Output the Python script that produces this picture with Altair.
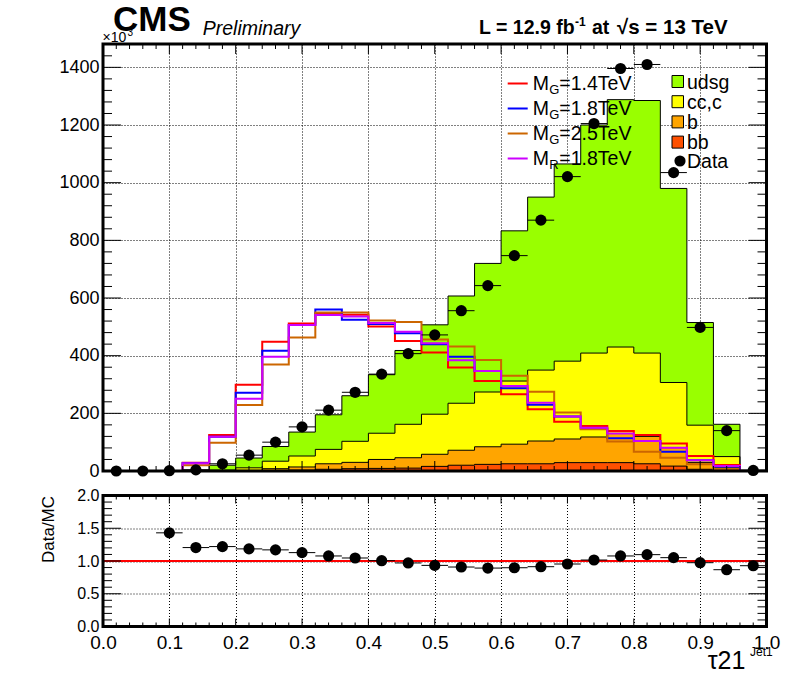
import altair as alt
import pandas as pd

# ---------------- data (units of 10^3 events) ----------------
bin_lo = [0.00, 0.04, 0.08, 0.12, 0.16, 0.20, 0.24, 0.28, 0.32, 0.36, 0.40, 0.44, 0.48,
          0.52, 0.56, 0.60, 0.64, 0.68, 0.72, 0.76, 0.80, 0.84, 0.88, 0.92, 0.96]
bin_hi = [0.04, 0.08, 0.12, 0.16, 0.20, 0.24, 0.28, 0.32, 0.36, 0.40, 0.44, 0.48, 0.52,
          0.56, 0.60, 0.64, 0.68, 0.72, 0.76, 0.80, 0.84, 0.88, 0.92, 0.96, 1.00]
bin_center = [0.02, 0.06, 0.10, 0.14, 0.18, 0.22, 0.26, 0.30, 0.34, 0.38, 0.42, 0.46, 0.50,
              0.54, 0.58, 0.62, 0.66, 0.70, 0.74, 0.78, 0.82, 0.86, 0.90, 0.94, 0.98]

udsg = [0, 0, 0.7, 2.8, 17, 34, 51, 83, 120, 158, 203, 256, 310,
        372, 446, 521, 600, 684, 791, 858, 876, 673, 356, 112, 1.5]
cc_c = [0, 0, 0, 0.5, 3, 9, 26, 38, 50, 73, 91, 116, 139,
        163, 190, 219, 246, 270, 291, 300, 289, 226, 130, 39, 1]
b_only = [0, 0, 0, 0, 0, 1.5, 7, 11, 19, 22, 31, 36, 42,
          52, 61, 68, 79, 82, 89, 101, 95, 64, 23, 9, 0.5]
bb = [0, 0, 0, 0, 0, 0.5, 1, 3, 6, 8, 9, 10, 16,
      20, 23, 25, 25, 29, 29, 29, 25, 17, 6, 2, 0]

data_counts = [0, 0, 1, 4, 25, 55, 100, 153, 211, 273, 336, 407, 472,
               556, 643, 747, 870, 1021, 1205, 1396, 1410, 1035, 498, 140, 2]

ratio = [None, None, 1.43, 1.205, 1.22, 1.185, 1.17, 1.128, 1.077, 1.046, 1.005, 0.97, 0.933,
         0.908, 0.892, 0.897, 0.913, 0.954, 1.015, 1.077, 1.097, 1.051, 0.974, 0.867, 0.928]

sig_G14 = [0, 0, 0, 29, 125, 299, 448, 512, 546, 542, 501, 451, 411,
           359, 312, 266, 214, 171, 156, 139, 125, 95, 52, 21, 0]
sig_G18 = [0, 0, 0, 27, 119, 271, 417, 506, 560, 525, 510, 478, 440,
           396, 347, 287, 230, 189, 147, 114, 104, 67, 37, 16, 0]
sig_G25 = [0, 0, 0, 20, 98, 229, 369, 463, 550, 550, 522, 517, 456,
           432, 385, 330, 275, 203, 145, 102, 67, 46, 23, 6, 0]
sig_R18 = [0, 0, 0, 27, 119, 251, 396, 506, 541, 536, 513, 483, 443,
           384, 347, 295, 237, 189, 150, 130, 104, 81, 37, 17, 0]

sig_labels = ["=1.4TeV", "=1.8TeV", "=2.5TeV", "=1.8TeV"]
sig_subs = ["G", "G", "G", "R"]
stack_labels = ["udsg", "cc,c", "b", "bb"]

x_major = [0.0, 0.1, 0.2, 0.3, 0.4, 0.5, 0.6, 0.7, 0.8, 0.9, 1.0]
x_minor = [0.02, 0.04, 0.06, 0.08, 0.12, 0.14, 0.16, 0.18, 0.22, 0.24, 0.26, 0.28,
           0.32, 0.34, 0.36, 0.38, 0.42, 0.44, 0.46, 0.48, 0.52, 0.54, 0.56, 0.58,
           0.62, 0.64, 0.66, 0.68, 0.72, 0.74, 0.76, 0.78, 0.82, 0.84, 0.86, 0.88,
           0.92, 0.94, 0.96, 0.98]
y1_major = [0, 200, 400, 600, 800, 1000, 1200, 1400]
y1_minor = [40, 80, 120, 160, 240, 280, 320, 360, 440, 480, 520, 560, 640, 680, 720, 760,
            840, 880, 920, 960, 1040, 1080, 1120, 1160, 1240, 1280, 1320, 1360, 1440]
y2_major = [0.0, 0.5, 1.0, 1.5, 2.0]
y2_minor = [0.1, 0.2, 0.3, 0.4, 0.6, 0.7, 0.8, 0.9, 1.1, 1.2, 1.3, 1.4, 1.6, 1.7, 1.8, 1.9]

# ---------------- layout / style ----------------
W = 663.5
H1 = 427
H2 = 131
FONT = "Liberation Sans"
C_UDSG, C_CC, C_B, C_BB = "#99ff00", "#ffff00", "#ffa500", "#ff5000"
SIG_COLORS = ["#ff0000", "#0000ff", "#cc6600", "#cc00ff"]

xs = alt.Scale(domain=[0, 1], nice=False, zero=False)
ys1 = alt.Scale(domain=[0, 1481], nice=False)
ys2 = alt.Scale(domain=[0, 2], nice=False)

grid_kw = dict(grid=True, gridDash=[1, 2], gridColor="black", gridOpacity=1, gridWidth=1,
               ticks=False, tickSize=0, domain=False, title=None)
ax1x = alt.Axis(values=x_major, labels=False, **grid_kw)
ax1y = alt.Axis(values=y1_major, labels=True, labelFontSize=18, labelPadding=4, format="d",
                labelFont=FONT, labelColor="black", labelFlush=False, **grid_kw)
ax2x = alt.Axis(values=x_major, labels=True, labelFontSize=19, labelPadding=7, format=".1f",
                labelFont=FONT, labelColor="black", labelFlush=False, labelOverlap=False, **grid_kw)
ax2y = alt.Axis(values=y2_major, labels=True, labelFontSize=16, labelPadding=4, format=".1f",
                labelFont=FONT, labelColor="black", labelFlush=False, labelOverlap=False, **grid_kw)


def X1(f):
    return alt.X(f"{f}:Q", scale=xs, axis=ax1x)


def Y1(f):
    return alt.Y(f"{f}:Q", scale=ys1, axis=ax1y)


def X2(f):
    return alt.X(f"{f}:Q", scale=xs, axis=ax2x)


def Y2(f):
    return alt.Y(f"{f}:Q", scale=ys2, axis=ax2y)


def step_df(vals):
    return pd.DataFrame({"x": bin_lo + [1.0], "y": list(vals) + [vals[-1]]})


one = pd.DataFrame({"a": [0]})


def txt(s, x, y, size, weight="normal", style="normal", align="left", baseline="alphabetic",
        angle=0, color="black"):
    return alt.Chart(one).mark_text(text=s, font=FONT, fontSize=size, fontWeight=weight,
                                    fontStyle=style, align=align, baseline=baseline,
                                    angle=angle, color=color).encode(
        x=alt.value(x), y=alt.value(y))


# cumulative stack tops
bb_top = list(bb)
b_top = [p + q for p, q in zip(b_only, bb)]
cc_top = [p + q for p, q in zip(cc_c, b_top)]
tot = [p + q for p, q in zip(udsg, cc_top)]

layers1 = []
for vals, col in [(tot, C_UDSG), (cc_top, C_CC), (b_top, C_B), (bb_top, C_BB)]:
    layers1.append(alt.Chart(step_df(vals)).mark_area(
        interpolate="step-after", color=col, opacity=1).encode(x=X1("x"), y=Y1("y")))
for vals in [tot, cc_top, b_top, bb_top]:
    layers1.append(alt.Chart(step_df(vals)).mark_line(
        interpolate="step-after", color="black", strokeWidth=1).encode(x=X1("x"), y=Y1("y")))
for vals, col in zip([sig_G14, sig_G18, sig_G25, sig_R18], SIG_COLORS):
    layers1.append(alt.Chart(step_df(vals)).mark_line(
        interpolate="step-after", color=col, strokeWidth=2).encode(x=X1("x"), y=Y1("y")))

ddf = pd.DataFrame({"lo": bin_lo, "hi": bin_hi, "c": bin_center, "y": data_counts})
layers1.append(alt.Chart(ddf).mark_rule(color="black", strokeWidth=1).encode(
    x=X1("lo"), x2="hi", y=Y1("y")))


# ticks (inward, all four sides)
def tick_layers(vals_x_maj, vals_x_min, vals_y_maj, vals_y_min, X, Y, H, lxM, lxm, lyM, lym):
    out = []
    for vals, L in [(vals_x_maj, lxM), (vals_x_min, lxm)]:
        d = pd.DataFrame({"v": vals})
        out.append(alt.Chart(d).mark_rule(color="black", strokeWidth=1).encode(
            x=X("v"), y=alt.value(H), y2=alt.value(H - L)))
        out.append(alt.Chart(d).mark_rule(color="black", strokeWidth=1).encode(
            x=X("v"), y=alt.value(0), y2=alt.value(L)))
    for vals, L in [(vals_y_maj, lyM), (vals_y_min, lym)]:
        d = pd.DataFrame({"v": vals})
        out.append(alt.Chart(d).mark_rule(color="black", strokeWidth=1).encode(
            y=Y("v"), x=alt.value(0), x2=alt.value(L)))
        out.append(alt.Chart(d).mark_rule(color="black", strokeWidth=1).encode(
            y=Y("v"), x=alt.value(W), x2=alt.value(W - L)))
    return out


layers1 += tick_layers(x_major, x_minor, y1_major, y1_minor, X1, Y1, H1, 10, 5, 18, 9)

# frame
layers1.append(alt.Chart(one).mark_rect(fillOpacity=0, stroke="black", strokeWidth=3).encode(
    x=alt.value(0), x2=alt.value(W), y=alt.value(0), y2=alt.value(H1)))

layers1.append(alt.Chart(ddf).mark_circle(size=125, color="black", opacity=1).encode(
    x=X1("c"), y=Y1("y")))

# signal legend
for i, (lab, sub, col) in enumerate(zip(sig_labels, sig_subs, SIG_COLORS)):
    yl = 39.5 + 25 * i
    layers1.append(alt.Chart(one).mark_rule(color=col, strokeWidth=2).encode(
        x=alt.value(404.7), x2=alt.value(424.7), y=alt.value(yl)))
    layers1.append(txt("M", 429.7, yl + 6.5, 19.5))
    layers1.append(txt(sub, 446.3, yl + 10.5, 13))
    layers1.append(txt(lab, 456.3, yl + 6.5, 19.5))

# stack legend
for i, (lab, col) in enumerate(zip(stack_labels, [C_UDSG, C_CC, C_B, C_BB])):
    yc = 37.5 + 20.2 * i
    layers1.append(alt.Chart(one).mark_rect(fill=col, stroke="black", strokeWidth=1).encode(
        x=alt.value(569), x2=alt.value(580.5), y=alt.value(yc - 6), y2=alt.value(yc + 6)))
    layers1.append(txt(lab, 584, yc + 7, 19.5))
layers1.append(alt.Chart(one).mark_circle(size=125, color="black", opacity=1).encode(
    x=alt.value(577), y=alt.value(117)))
layers1.append(txt("Data", 584, 124, 19.5))

# header texts
layers1.append(txt("\u00d710", -0.5, -1.8, 14))
layers1.append(txt("3", 24.5, -8.5, 10))
layers1.append(txt("CMS", 10, -13.5, 35, weight="bold"))
layers1.append(txt("Preliminary", 99.7, -9.5, 19.5, style="italic"))
layers1.append(txt("L = 12.9 fb", 376, -10.5, 19.5, weight="bold"))
layers1.append(txt("-1", 472, -18.5, 12, weight="bold"))
layers1.append(txt("at", 489, -10.5, 19.5, weight="bold"))
layers1.append(txt("\u221as = 13 TeV", 514, -10.5, 20.5, weight="bold"))

top = alt.layer(*layers1).properties(width=W, height=H1)

# ---------------- ratio panel ----------------
rdf = pd.DataFrame({"lo": bin_lo, "hi": bin_hi, "c": bin_center, "r": ratio}).dropna()
layers2 = []
layers2.append(alt.Chart(pd.DataFrame({"r": [1.0]})).mark_rule(color="red", strokeWidth=2).encode(
    x=alt.value(0), x2=alt.value(W), y=Y2("r")))
layers2.append(alt.Chart(rdf).mark_rule(color="black", strokeWidth=1).encode(
    x=X2("lo"), x2="hi", y=Y2("r")))
layers2 += tick_layers(x_major, x_minor, y2_major, y2_minor, X2, Y2, H2, 8, 4, 18, 9)
layers2.append(alt.Chart(one).mark_rect(fillOpacity=0, stroke="black", strokeWidth=3).encode(
    x=alt.value(0), x2=alt.value(W), y=alt.value(0), y2=alt.value(H2)))
layers2.append(alt.Chart(rdf).mark_circle(size=125, color="black", opacity=1).encode(
    x=X2("c"), y=Y2("r")))
layers2.append(txt("Data/MC", -54.5, 34, 17, align="center", baseline="middle", angle=270))
layers2.append(txt("\u03c421", 604.7, 173, 25))
layers2.append(txt("Jet1", 647, 160.5, 12))

bottom = alt.layer(*layers2).properties(width=W, height=H2)

chart = alt.vconcat(top, bottom, spacing=24.5, bounds="flush").properties(
    padding={"left": 39, "top": 2, "right": 0, "bottom": 0}
).configure_view(strokeWidth=0).configure_axis(labelFont=FONT, labelColor="black")

chart.save("out.html", embed_options={"renderer": "svg", "actions": False})
